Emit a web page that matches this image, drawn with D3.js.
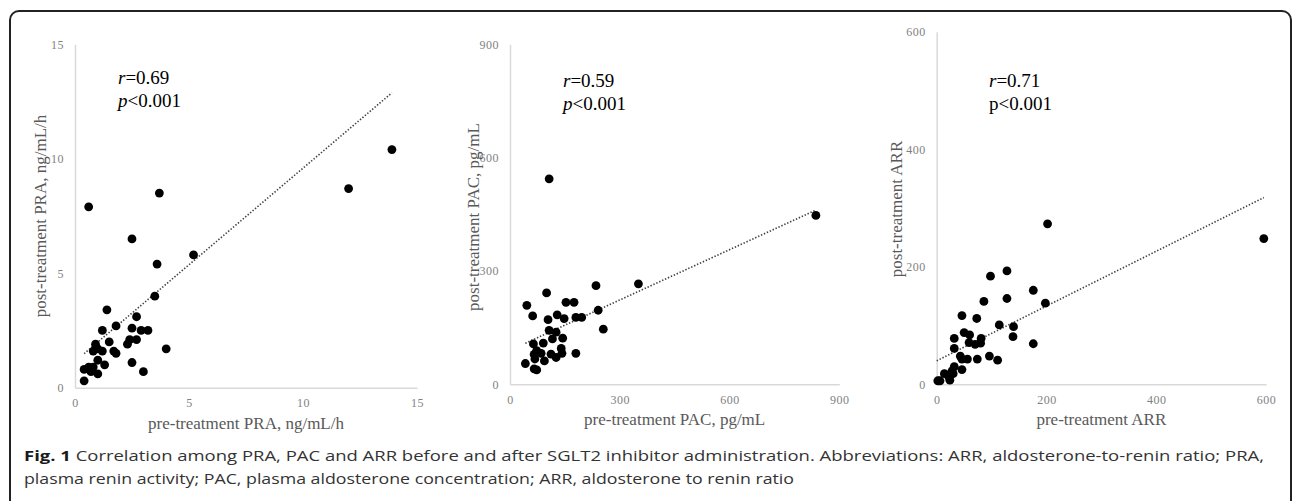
<!DOCTYPE html>
<html>
<head>
<meta charset="utf-8">
<script src="https://cdn.jsdelivr.net/npm/d3@7"></script>
<style>
  body { margin: 0; background: #fff; }
  .axis path { stroke: #d9d9d9; stroke-width: 1.5; }
  .axis text { font-family: "Liberation Serif", serif; font-size: 12px; fill: #7f7f7f; letter-spacing: 0.5px; }
  .axis-title { font-family: "Liberation Serif", serif; font-size: 17px; fill: #595959; }
  .stat { font-family: "Liberation Serif", serif; font-size: 19px; fill: #000; }
  .caption { font-family: "Open Sans", sans-serif; font-size: 15px; fill: #333; }
</style>
</head>
<body>
<script>
/**
 * Data
 * pre-treatment (x) vs post-treatment (y)
 */
var praPre  = [0.6, 3.7, 2.5, 5.2, 3.6, 3.5, 12.0, 13.9, 1.4, 2.7, 1.8, 2.5, 1.2, 2.9, 3.2, 2.4, 2.7, 2.3,
               1.5, 0.9, 1.0, 1.7, 1.8, 0.8, 1.2, 4.0, 1.0, 1.3, 2.5, 0.4, 0.6, 0.8, 0.7, 1.0, 3.0, 0.4];
var praPost = [7.9, 8.5, 6.5, 5.8, 5.4, 4.0, 8.7, 10.4, 3.4, 3.1, 2.7, 2.6, 2.5, 2.5, 2.5, 2.1, 2.1, 1.9,
               2.0, 1.9, 1.7, 1.6, 1.5, 1.6, 1.6, 1.7, 1.2, 1.0, 1.1, 0.8, 0.9, 0.9, 0.7, 0.6, 0.7, 0.3];

var pacPre  = [107, 836, 351, 235, 100, 46, 153, 175, 62, 104, 129, 148, 180, 196, 241, 255, 107, 126,
               116, 144, 64, 91, 73, 85, 66, 140, 112, 142, 126, 180, 68, 94, 42, 66, 73];
var pacPost = [544, 447, 266, 261, 242, 209, 217, 217, 181, 171, 184, 174, 177, 177, 196, 146, 143, 138,
               120, 122, 107, 109, 89, 82, 79, 95, 80, 82, 71, 82, 67, 62, 55, 41, 38];

var arrPre  = [202, 596, 128, 98, 176, 128, 86, 198, 46, 73, 114, 140, 50, 60, 32, 81, 139, 59,
               70, 80, 176, 32, 43, 96, 46, 56, 74, 111, 32, 46, 28, 30, 14, 24, 2, 6, 22];
var arrPost = [273, 248, 193, 184, 160, 146, 141, 138, 117, 112, 101, 98, 88, 84, 78, 78, 81, 71,
               68, 70, 69, 61, 48, 48, 43, 43, 43, 41, 30, 25, 23, 18, 18, 7, 6, 6, 13];

// trend lines: [slope, intercept]
var praTrend = [0.844, 1.15];
var pacTrend = [0.444, 90];
var arrTrend = [0.466, 40];

var praTicks = [0, 5, 10, 15];
var pacTicks = [0, 300, 600, 900];
var arrTicks = [0, 200, 400, 600];

var xTitles = ["pre-treatment PRA, ng/mL/h", "pre-treatment PAC, pg/mL", "pre-treatment ARR"];
var yTitles = ["post-treatment PRA, ng/mL/h", "post-treatment PAC, pg/mL", "post-treatment ARR"];
var rValues = ["0.69", "0.59", "0.71"];
var pValues = ["<0.001", "<0.001", "<0.001"];

var captionLines = [
  ["Fig. 1", " Correlation among PRA, PAC and ARR before and after SGLT2 inhibitor administration. Abbreviations: ARR, aldosterone-to-renin ratio; PRA,"],
  ["", "plasma renin activity; PAC, plasma aldosterone concentration; ARR, aldosterone to renin ratio"]
];

var w = 1293, h = 501;

var svg = d3.select("body")
  .append("svg")
  .attr("width", w)
  .attr("height", h);

// rounded frame, open at the bottom
svg.append("rect")
  .attr("x", 10)
  .attr("y", 11)
  .attr("width", 1281)
  .attr("height", 700)
  .attr("rx", 9)
  .attr("fill", "none")
  .attr("stroke", "#222")
  .attr("stroke-width", 2);

function generateScatterPlot(xs, ys, ticks, trend, opts) {
  var data = xs.map((x, i) => [x, ys[i]]);
  var xScale = d3.scaleLinear()
    .domain([0, ticks[ticks.length - 1]])
    .range(opts.xRange);
  var yScale = d3.scaleLinear()
    .domain([0, ticks[ticks.length - 1]])
    .range(opts.yRange);

  var g = svg.append("g");

  g.append("g")
    .attr("class", "axis")
    .attr("transform", `translate(0, ${opts.yRange[0]})`)
    .call(d3.axisBottom(xScale).tickValues(ticks).tickSize(0).tickPadding(11))
    .call(a => a.selectAll("text").attr("font-family", null).attr("font-size", null));

  g.append("g")
    .attr("class", "axis")
    .attr("transform", `translate(${opts.xRange[0]}, 0)`)
    .call(d3.axisLeft(yScale).tickValues(ticks).tickSize(0).tickPadding(11))
    .call(a => a.selectAll("text").attr("font-family", null).attr("font-size", null));
  svg.selectAll(".axis").attr("font-family", null).attr("font-size", null);

  // trend line, drawn across the data range
  var x0 = opts.trendFromZero ? 0 : d3.min(xs), x1 = d3.max(xs);
  g.append("line")
    .attr("x1", xScale(x0))
    .attr("y1", yScale(trend[0] * x0 + trend[1]))
    .attr("x2", xScale(x1))
    .attr("y2", yScale(trend[0] * x1 + trend[1]))
    .attr("stroke", "#404040")
    .attr("stroke-width", 1.6)
    .attr("stroke-dasharray", "1.4 1.8");

  g.selectAll(".point")
    .data(data)
    .enter()
    .append("circle")
    .attr("cx", d => xScale(d[0]))
    .attr("cy", d => yScale(d[1]))
    .attr("r", 4.4)
    .attr("fill", "#000");

  // axis titles
  g.append("text")
    .attr("class", "axis-title")
    .attr("x", (opts.xRange[0] + opts.xRange[1]) / 2)
    .attr("y", opts.yRange[0] + 41)
    .attr("text-anchor", "middle")
    .text(opts.xTitle);

  g.append("text")
    .attr("class", "axis-title")
    .attr("transform", `translate(${opts.yTitleX}, ${opts.yTitleY}) rotate(-90)`)
    .attr("text-anchor", "middle")
    .text(opts.yTitle);

  // r and p
  var r = g.append("text").attr("class", "stat").attr("x", opts.statX).attr("y", opts.statY);
  r.append("tspan").attr("font-style", "italic").text("r");
  r.append("tspan").text("=" + opts.r);
  var p = g.append("text").attr("class", "stat").attr("x", opts.statX).attr("y", opts.statY + 23);
  p.append("tspan").attr("font-style", opts.pItalic ? "italic" : "normal").text("p");
  p.append("tspan").text(opts.p);
}

generateScatterPlot(praPre, praPost, praTicks, praTrend, {
  xRange: [75, 417], yRange: [387.7, 44.3],
  xTitle: xTitles[0], yTitle: yTitles[0], yTitleX: 46, yTitleY: 216,
  r: rValues[0], p: pValues[0], pItalic: true, statX: 118, statY: 84
});
generateScatterPlot(pacPre, pacPost, pacTicks, pacTrend, {
  xRange: [510, 839.3], yRange: [384.3, 44.3],
  xTitle: xTitles[1], yTitle: yTitles[1], yTitleX: 479, yTitleY: 217,
  r: rValues[1], p: pValues[1], pItalic: true, statX: 563, statY: 87
});
generateScatterPlot(arrPre, arrPost, arrTicks, arrTrend, {
  xRange: [936.7, 1266], yRange: [384.3, 31.7],
  xTitle: xTitles[2], yTitle: yTitles[2], yTitleX: 902, yTitleY: 209,
  r: rValues[2], p: pValues[2], pItalic: false, statX: 989, statY: 87, trendFromZero: true
});

// caption
var captionWidths = [1240, 770];
captionLines.forEach((line, i) => {
  var t = svg.append("text")
    .attr("class", "caption")
    .attr("x", 24)
    .attr("y", 461 + i * 23)
    .attr("textLength", captionWidths[i])
    .attr("lengthAdjust", "spacingAndGlyphs");
  if (line[0]) t.append("tspan").attr("font-weight", "bold").attr("fill", "#1a1a1a").text(line[0]);
  t.append("tspan").text(line[1]);
});
</script>
</body>
</html>
